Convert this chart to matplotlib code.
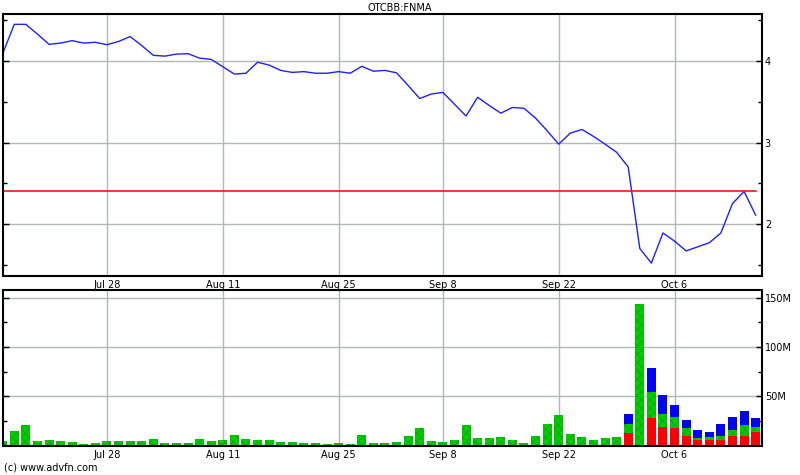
import numpy as np
import pandas as pd
import matplotlib
matplotlib.use("Agg")
import matplotlib.pyplot as plt
from matplotlib.ticker import FixedLocator, MultipleLocator, FuncFormatter

# ------------------------------------------------------------------#
# data: FNMA daily closes + volume (millions)
trading_days = pd.bdate_range("2014-07-15", "2014-10-15").drop(pd.Timestamp("2014-09-01"))

price = [
    4.09, 4.45, 4.45, 4.33, 4.205, 4.22, 4.25, 4.22, 4.23, 4.20,
    4.24, 4.30, 4.19, 4.07, 4.06, 4.085, 4.09, 4.035, 4.02, 3.93,
    3.84, 3.85, 3.985, 3.95, 3.885, 3.86, 3.87, 3.85, 3.85, 3.87,
    3.85, 3.935, 3.875, 3.885, 3.855, 3.70, 3.54, 3.595, 3.615, 3.47,
    3.325, 3.555, 3.455, 3.36, 3.43, 3.42, 3.30, 3.145, 2.98, 3.115,
    3.16, 3.075, 2.98, 2.88, 2.70, 1.70, 1.52, 1.89, 1.79, 1.67,
    1.72, 1.77, 1.89, 2.25, 2.40, 2.11,
]

vol_green = [
    4.8, 14.9, 21.0, 4.8, 5.8, 4.8, 3.8, 2.0, 2.7, 4.8,
    4.8, 4.8, 4.8, 6.8, 2.7, 2.7, 2.7, 6.8, 4.8, 5.8,
    10.8, 6.8, 5.8, 5.8, 3.8, 3.8, 2.7, 2.7, 2.0, 2.7,
    1.7, 10.8, 2.7, 2.7, 3.8, 9.5, 17.7, 4.4, 3.4, 5.4,
    20.7, 7.5, 7.5, 8.5, 5.4, 2.4, 9.5, 21.8, 31.0, 11.6,
    8.5, 5.4, 7.5, 8.5, 9.2, 144.2, 26.2, 13.3, 11.2, 8.2,
    2.1, 3.1, 4.1, 6.1, 11.2, 5.1,
]
# red / blue segments only exist on the last 12 sessions
vol_red_tail = [12.6, 0, 28.2, 18.7, 17.7, 9.5, 5.4, 5.4, 5.4, 9.5, 9.5, 13.6]
vol_blue_tail = [10.2, 0, 24.5, 19.4, 12.3, 8.2, 8.1, 5.1, 12.3, 13.3, 14.3, 9.2]

tick_dates = ["2014-07-28", "2014-08-11", "2014-08-25", "2014-09-08", "2014-09-22", "2014-10-06"]
tick_labels = ["Jul 28", "Aug 11", "Aug 25", "Sep 8", "Sep 22", "Oct 6"]
ref_level = 2.40
title = "OTCBB:FNMA"

# ------------------------------------------------------------------#
COLORS = {
    "line": "#1f1fff",
    "ref": "#ff0000",
    "green": "#00cc00",
    "green_hatch": "#009c00",
    "red": "#ff0000",
    "blue": "#0000ff",
    "grid": "#b0b8b8",
}

plt.rcParams["font.family"] = "DejaVu Sans"
plt.rcParams["font.size"] = 7
plt.rcParams["hatch.linewidth"] = 0.4

n = len(price)
x = np.arange(n)
vol_red = np.r_[np.zeros(n - len(vol_red_tail)), vol_red_tail]
vol_blue = np.r_[np.zeros(n - len(vol_blue_tail)), vol_blue_tail]
vol_green = np.asarray(vol_green)
tick_pos = [trading_days.get_loc(pd.Timestamp(d)) for d in tick_dates]

W, H = 800, 475
fig = plt.figure(figsize=(W / 100, H / 100), dpi=100)


def px_axes(left, top, right, bottom):
    return fig.add_axes([left / W, 1 - bottom / H, (right - left) / W, (bottom - top) / H])


ax_p = px_axes(2.7, 14, 762, 276)
ax_v = px_axes(2.7, 290, 762, 445.7)


def style_axes(ax):
    for sp in ax.spines.values():
        sp.set_linewidth(1.5)
        sp.set_color("black")
    ax.set_xlim(0, n - 0.45)
    ax.xaxis.set_major_locator(FixedLocator(tick_pos))
    ax.set_xticklabels(tick_labels)
    ax.tick_params(axis="x", length=0, pad=3)
    ax.tick_params(axis="y", which="both", direction="in", left=True, right=True,
                   labelleft=False, labelright=True, width=1, pad=2)
    ax.tick_params(axis="y", which="major", length=4)
    ax.tick_params(axis="y", which="minor", length=3)
    ax.grid(True, which="major", color=COLORS["grid"], linewidth=1)
    ax.set_axisbelow(True)


# price panel
style_axes(ax_p)
ax_p.plot(x, price, color=COLORS["line"], linewidth=1)
ax_p.axhline(ref_level, xmax=(n - 1) / (n - 0.45), color=COLORS["ref"], linewidth=1.1)
ax_p.set_ylim(1.362, 4.577)
ax_p.yaxis.set_major_locator(MultipleLocator(1))
ax_p.yaxis.set_minor_locator(MultipleLocator(0.5))
ax_p.yaxis.set_major_formatter(FuncFormatter(lambda v, pos: f"{v:.0f}"))

# volume panel
style_axes(ax_v)
bw = 0.78
ax_v.bar(x, vol_red, width=bw, color=COLORS["red"], linewidth=0)
ax_v.bar(x, vol_green, width=bw, bottom=vol_red, color=COLORS["green"],
         edgecolor=COLORS["green_hatch"], hatch="xxxx", linewidth=0)
ax_v.bar(x, vol_blue, width=bw, bottom=vol_red + vol_green, color=COLORS["blue"], linewidth=0)
ax_v.set_ylim(0, 157.9)
ax_v.yaxis.set_major_locator(FixedLocator([50, 100, 150]))
ax_v.yaxis.set_minor_locator(FixedLocator([25, 75, 125]))
ax_v.yaxis.set_major_formatter(FuncFormatter(lambda v, pos: f"{v:.0f}M"))

fig.text(0.5, 1 - 8 / H, title, ha="center", va="center", fontsize=7)
fig.text(4 / W, 1 - 468 / H, "(c) www.advfn.com", ha="left", va="center", fontsize=7)

fig.savefig("out.png", dpi=100)
